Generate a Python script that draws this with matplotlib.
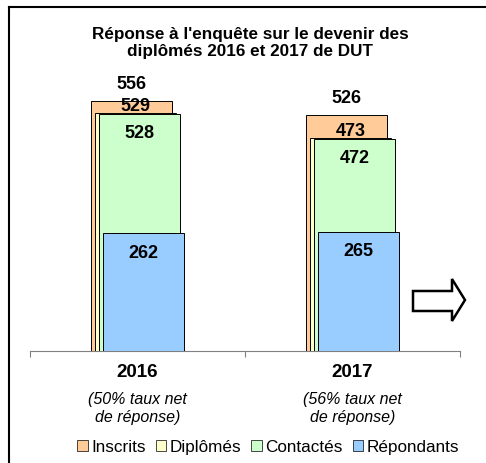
import matplotlib.pyplot as plt
from matplotlib.patches import Polygon
from matplotlib.lines import Line2D

plt.rcParams['font.family'] = ['Liberation Sans', 'DejaVu Sans']

years = ['2016', '2017']
taux = ['(50% taux net\nde réponse)', '(56% taux net\nde réponse)']
series = ['Inscrits', 'Diplômés', 'Contactés', 'Répondants']
inscrits = [556, 526]
diplomes = [529, 473]
contactes = [528, 472]
repondants = [262, 265]
values = [inscrits, diplomes, contactes, repondants]
colors = ['#FFCC99', '#FFFFCC', '#CCFFCC', '#99CCFF']
offsets = [-0.028, -0.009, 0.009, 0.028]
label_shift = [38, 17, -41, -42]

fig = plt.figure(figsize=(4.86, 4.64), dpi=100)
ax = fig.add_axes([30 / 486, 112 / 464, 430 / 486, 292 / 464])

width = 0.377
for i, (name, vals) in enumerate(zip(series, values)):
    xs = [j + offsets[i] for j in range(len(years))]
    ax.bar(xs, vals, width=width, color=colors[i], edgecolor='black',
           linewidth=0.7, zorder=2 + i, label=name)
    for x, v in zip(xs, vals):
        ax.text(x, v + label_shift[i], str(v), ha='center', va='center',
                fontsize=13, fontweight='bold', zorder=10, clip_on=False)

ax.set_xlim(-0.5, 1.5)
ax.set_ylim(0, 649.5)
for s in ['top', 'right', 'left']:
    ax.spines[s].set_visible(False)
ax.spines['bottom'].set_color('#808080')
ax.set_yticks([])
ax.set_xticks([-0.5, 0.5, 1.5])
ax.set_xticklabels([])
ax.tick_params(axis='x', length=4, color='#808080', direction='out')

for j, (y, t) in enumerate(zip(years, taux)):
    ax.text(j, -45, y, ha='center', va='center', fontsize=13.5,
            fontweight='bold', clip_on=False)
    ax.text(j, -126, t, ha='center', va='center', fontsize=11.5,
            style='italic', clip_on=False, linespacing=1.2)

fig.text(250 / 486, 1 - 43 / 464,
         "Réponse à l'enquête sur le devenir des\ndiplômés 2016 et 2017 de DUT",
         ha='center', va='center', fontsize=12.3, fontweight='bold',
         linespacing=1.2)

leg = fig.legend(loc='center', bbox_to_anchor=(268 / 486, 1 - 448 / 464),
                 ncol=4, frameon=False, fontsize=12.3, handlelength=0.6,
                 handleheight=0.6, handletextpad=0.2, columnspacing=0.6,
                 borderaxespad=0)
for h in leg.legend_handles:
    h.set_linewidth(0.5)

# block arrow on the right
W, H = 486, 464
pts = [(413, 292), (452, 292), (452, 280), (465, 301), (452, 322),
       (452, 312), (413, 312)]
arrow = Polygon([(x / W, 1 - y / H) for x, y in pts], closed=True,
                facecolor='white', edgecolor='black', linewidth=1.8,
                transform=fig.transFigure)
fig.patches.append(arrow)

# outer frame (left and top edges)
fig.add_artist(Line2D([9 / W, 9 / W], [0, 1 - 8 / H], color='black',
                      linewidth=1.5, transform=fig.transFigure))
fig.add_artist(Line2D([9 / W, 1], [1 - 8 / H, 1 - 8 / H], color='black',
                      linewidth=1.5, transform=fig.transFigure))

fig.savefig('out.png', dpi=100)
